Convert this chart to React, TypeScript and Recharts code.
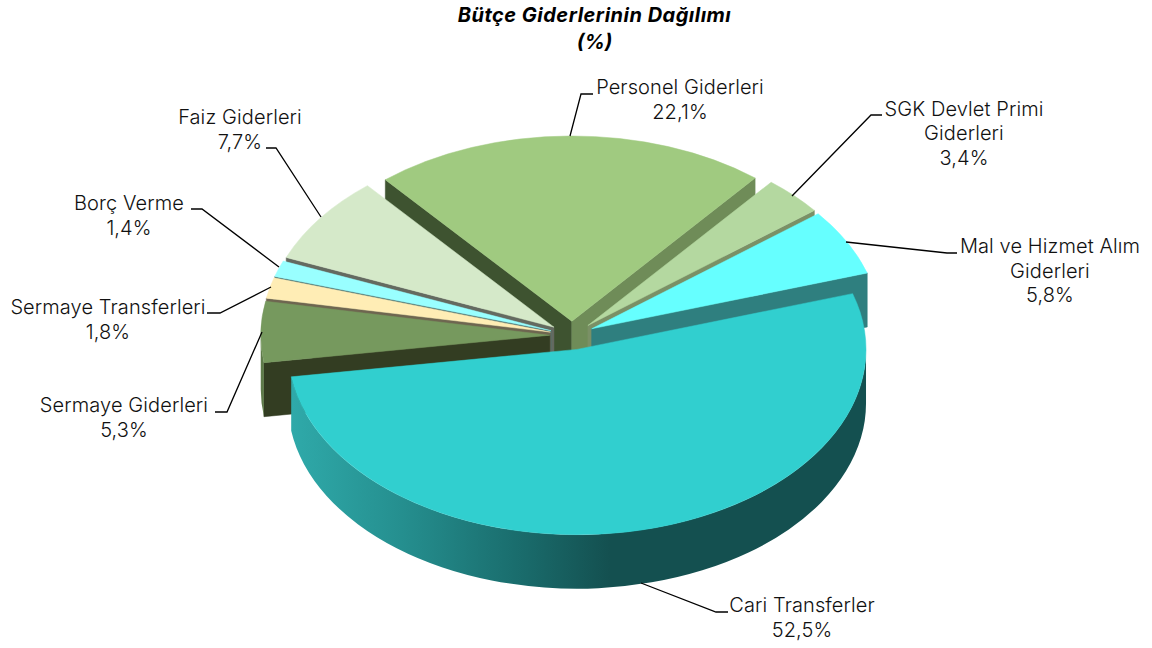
import React from "react";
import { Pie, PieChart } from "recharts";

// veri: grafikteki dilimler
const NAMES = [
  "Personel Giderleri",
  "SGK Devlet Primi Giderleri",
  "Mal ve Hizmet Alım Giderleri",
  "Cari Transferler",
  "Sermaye Giderleri",
  "Sermaye Transferleri",
  "Borç Verme",
  "Faiz Giderleri",
];
const VALUES = [22.1, 3.4, 5.8, 52.5, 5.3, 1.8, 1.4, 7.7];
const DATA = NAMES.map((name, i) => ({ name, value: VALUES[i] }));

// arkadan öne çizim sırası
const DRAW_ORDER = [0, 1, 7, 6, 5, 4, 2, 3];

const TOP_COLORS = ["#A0CA80", "#B4D8A0", "#66FFFF", "#31CFCF", "#76995E", "#FFEDB5", "#99FFFF", "#D5E9C9"];
const LEFT_WALLS = ["#3E5330", "#5A6C50", "#2F7F7F", "#1C6060", "#333D22", "#6E6650", "#4A7070", "#646A60"];
const RIGHT_WALLS = ["#6F8C58", "#7A9066", "#2F7F7F", "#1C6060", "#4E6640", "#6E6650", "#4A7070", "#646A60"];

const CX = 572;
const CY = 335.5;
const RADIUS = 289;
const TILT = 0.641;
const DEPTH = 54;
const EXPLODE = 0.077;

// etiket yerleşimi: satırlar, orta x, satır y'leri, kılavuz çizgi
const LABELS = [
  { lines: ["Personel Giderleri", "22,1%"], x: 680, y: [94, 119], leader: "570,136 581,94 593,94" },
  { lines: ["SGK Devlet Primi", "Giderleri", "3,4%"], x: 964, y: [116, 140, 165], leader: "792,196 871,115 882,115" },
  { lines: ["Mal ve Hizmet Alım", "Giderleri", "5,8%"], x: 1050, y: [253, 278, 302], leader: "846,242 947,253 957,253" },
  { lines: ["Cari Transferler", "52,5%"], x: 802, y: [612, 637], leader: "641,583 716,612 728,612" },
  { lines: ["Sermaye Giderleri", "5,3%"], x: 124, y: [412, 437], leader: "262,332 227,412 215,412" },
  { lines: ["Sermaye Transferleri", "1,8%"], x: 108, y: [314, 339], leader: "271,287 220,313 207,313" },
  { lines: ["Borç Verme", "1,4%"], x: 129, y: [210, 235], leader: "279,267 202,209 191,209" },
  { lines: ["Faiz Giderleri", "7,7%"], x: 240, y: [124, 149], leader: "321,217 276,148 266,148" },
];

const rad = (d: number) => (d * Math.PI) / 180;

function Slice(props: any) {
  const { cx, cy, outerRadius, startAngle, endAngle, index } = props;
  const ry = outerRadius * TILT;
  const mid = rad((startAngle + endAngle) / 2);
  const ex = cx + outerRadius * EXPLODE * Math.cos(mid);
  const ey = cy - ry * EXPLODE * Math.sin(mid);
  const pt = (deg: number) => ({ x: ex + outerRadius * Math.cos(rad(deg)), y: ey - ry * Math.sin(rad(deg)) });
  const a = pt(startAngle);
  const b = pt(endAngle);
  const large = startAngle - endAngle > 180 ? 1 : 0;
  const top = `M${ex},${ey} L${a.x},${a.y} A${outerRadius},${ry} 0 ${large} 1 ${b.x},${b.y} Z`;

  // yan yüzeyler: saat yönünde ilk kenar sol yarıda, son kenar sağ yarıda görünür
  const wall = (p: { x: number; y: number }, fill: string) => (
    <polygon
      points={`${ex},${ey} ${p.x},${p.y} ${p.x},${p.y + DEPTH} ${ex},${ey + DEPTH}`}
      fill={fill}
      stroke={fill}
      strokeWidth={0.5}
    />
  );
  const startVisible = Math.cos(rad(startAngle)) < 0;
  const endVisible = Math.cos(rad(endAngle)) > 0;

  // dış yüzey: yalnızca elipsin alt yarısı
  const arcStart = Math.min(startAngle, 0);
  const arcEnd = Math.max(endAngle, -180);
  let rim = null;
  if (arcStart > arcEnd) {
    const s = pt(arcStart);
    const e = pt(arcEnd);
    const big = arcStart - arcEnd > 180 ? 1 : 0;
    rim = (
      <path
        d={`M${s.x},${s.y} A${outerRadius},${ry} 0 ${big} 1 ${e.x},${e.y} L${e.x},${e.y + DEPTH} A${outerRadius},${ry} 0 ${big} 0 ${s.x},${s.y + DEPTH} Z`}
        fill={`url(#rim${index})`}
      />
    );
  }

  return (
    <g>
      {startVisible && wall(a, LEFT_WALLS[index])}
      {endVisible && wall(b, RIGHT_WALLS[index])}
      {rim}
      <path d={top} fill={TOP_COLORS[index]} stroke={TOP_COLORS[index]} strokeWidth={0.5} />
    </g>
  );
}

function renderLabel(props: any) {
  const info = LABELS[props.index];
  return (
    <g key={props.index}>
      <polyline points={info.leader} fill="none" stroke="#000" strokeWidth={1.3} />
      {info.lines.map((line, i) => (
        <text
          key={line}
          x={info.x}
          y={info.y[i]}
          textAnchor="middle"
          fontFamily="Inter"
          fontWeight={300}
          fontSize={20}
          letterSpacing={0.1}
          fill="#111"
        >
          {line}
        </text>
      ))}
    </g>
  );
}

export default function App() {
  return (
    <div style={{ position: "absolute", left: 0, top: 0, width: 1152, height: 648, background: "#fff" }}>
      <PieChart width={1152} height={648} margin={{ top: 0, right: 0, bottom: 0, left: 0 }}>
        <defs>
          <linearGradient id="rim3" gradientUnits="userSpaceOnUse" x1="289" y1="0" x2="610" y2="0">
            <stop offset="0" stopColor="#2FAAAA" />
            <stop offset="0.35" stopColor="#258F8F" />
            <stop offset="0.7" stopColor="#1A6E6E" />
            <stop offset="1" stopColor="#145050" />
          </linearGradient>
          <linearGradient id="rim4" gradientUnits="userSpaceOnUse" x1="261" y1="0" x2="266" y2="0">
            <stop offset="0" stopColor="#5E7A4A" />
            <stop offset="1" stopColor="#5E7A4A" />
          </linearGradient>
        </defs>
        <text x={594.5} y={22} textAnchor="middle" fontFamily="Inter" fontWeight={700} fontStyle="italic" fontSize={20} letterSpacing={0.5} fill="#000">
          Bütçe Giderlerinin Dağılımı
        </text>
        <text x={594.5} y={49} textAnchor="middle" fontFamily="Inter" fontWeight={700} fontStyle="italic" fontSize={20} fill="#000">
          (%)
        </text>
        {DRAW_ORDER.map((sliceIndex) => (
          <Pie
            key={sliceIndex}
            data={DATA}
            dataKey="value"
            nameKey="name"
            cx={CX}
            cy={CY}
            outerRadius={RADIUS}
            startAngle={130.2}
            endAngle={-229.8}
            isAnimationActive={false}
            label={false}
            labelLine={false}
            stroke="none"
            shape={(p: any) => (p.index === sliceIndex ? <Slice {...p} /> : <g />)}
          />
        ))}
        <Pie
          data={DATA}
          dataKey="value"
          nameKey="name"
          cx={CX}
          cy={CY}
          outerRadius={RADIUS}
          startAngle={130.2}
          endAngle={-229.8}
          isAnimationActive={false}
          labelLine={false}
          label={renderLabel}
          stroke="none"
          shape={() => <g />}
        />
      </PieChart>
    </div>
  );
}
